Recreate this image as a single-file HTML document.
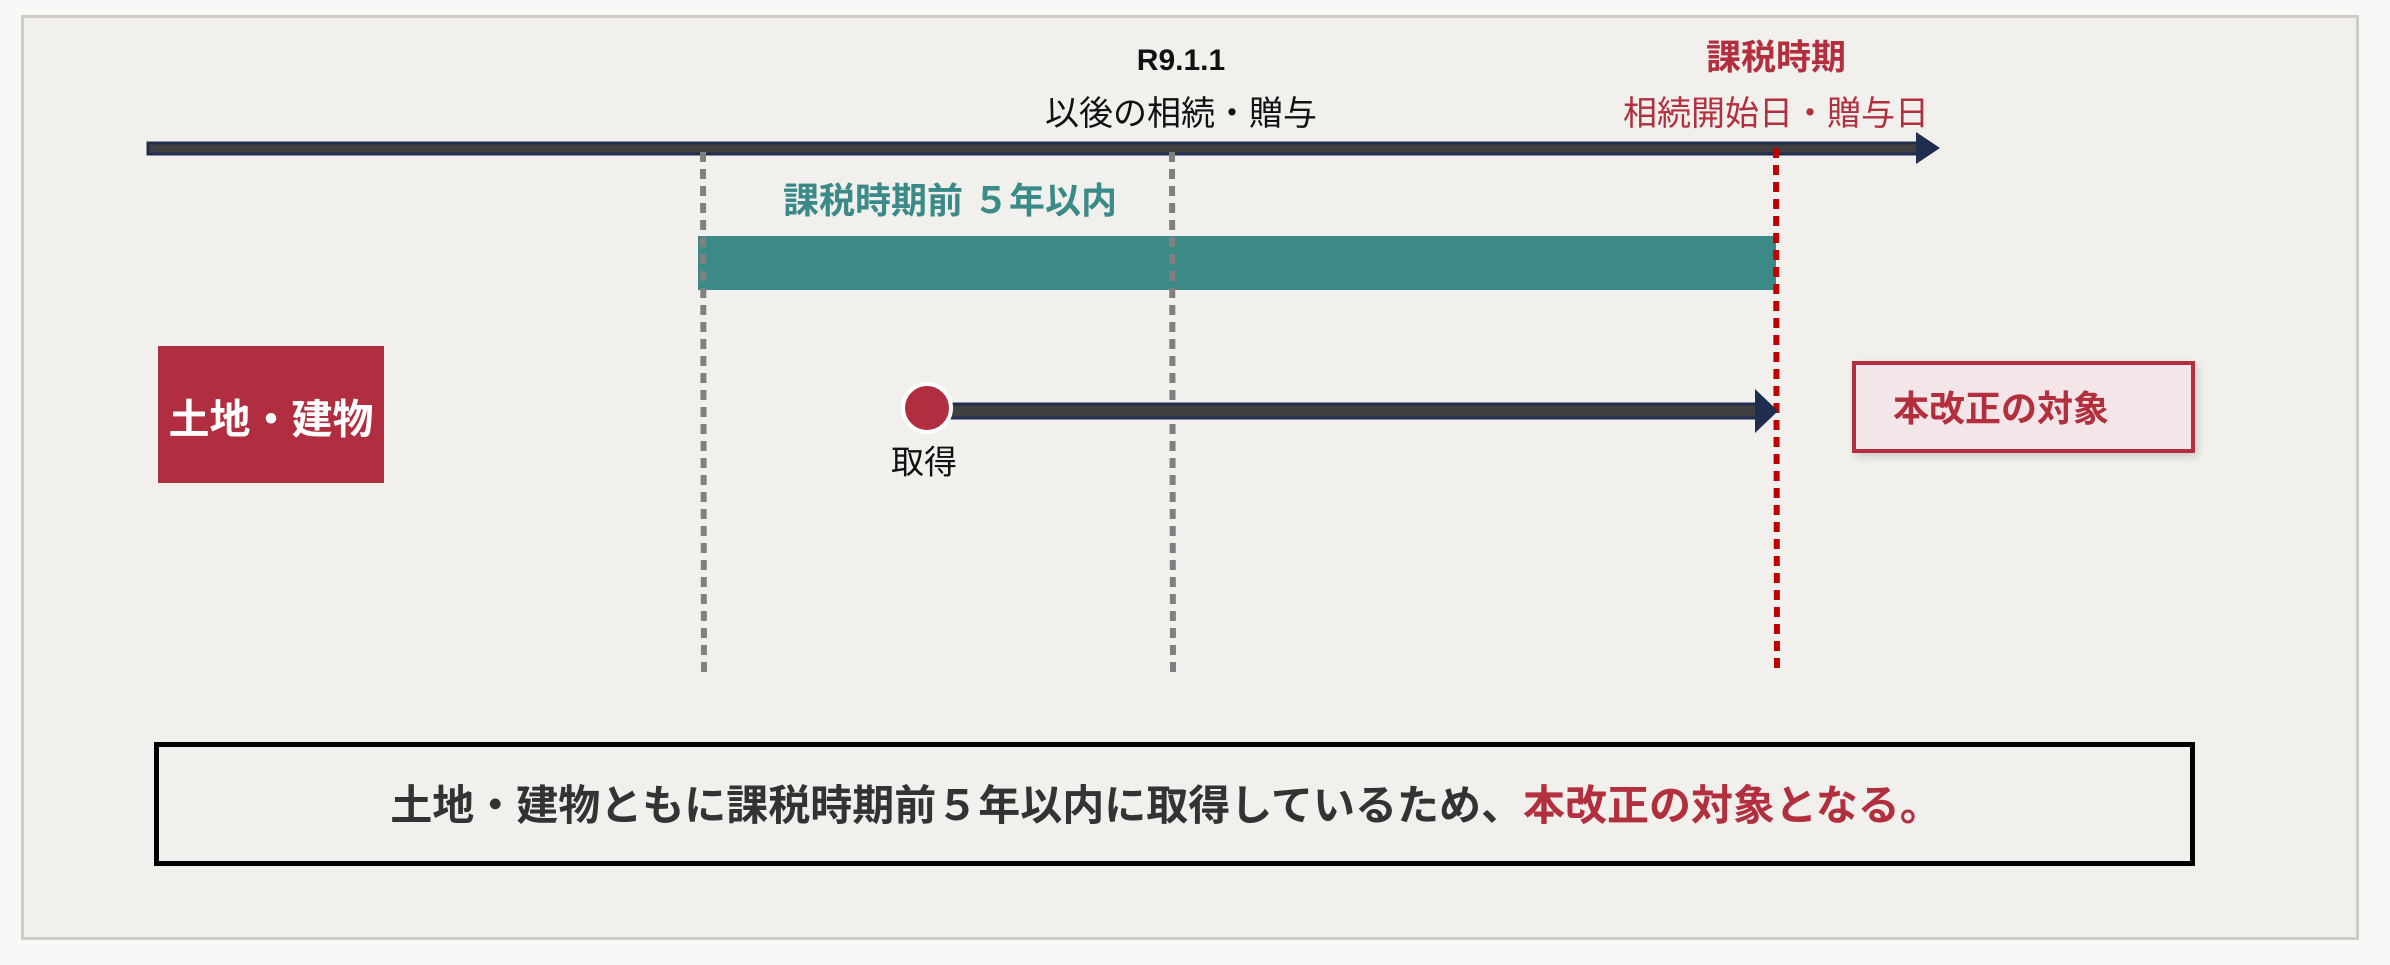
<!DOCTYPE html>
<html><head><meta charset="utf-8"><style>
html,body{margin:0;padding:0}
body{width:2390px;height:965px;background:#f8f8f6;position:relative;overflow:hidden;font-family:"Liberation Sans","Noto Sans CJK JP",sans-serif}
.a{position:absolute}
.t{position:absolute;white-space:nowrap;transform:translate(-50%,-50%);line-height:1}
</style></head><body>
<div class="a" style="left:21px;top:15px;width:2332px;height:919px;border:3px solid #d0ccc4;background:#f1f0ed"></div>

<div class="t" style="left:1181px;top:61px;font-size:30px;font-weight:bold;color:#111">R9.1.1</div>
<div class="t" style="left:1181px;top:114px;font-size:34px;color:#111">以後の相続・贈与</div>
<div class="t" style="left:1776px;top:58px;font-size:35px;font-weight:bold;color:#b22f3e">課税時期</div>
<div class="t" style="left:1776px;top:114px;font-size:34px;color:#b22f3e">相続開始日・贈与日</div>
<div class="t" style="left:950px;top:201px;font-size:36px;font-weight:bold;color:#3a8a87">課税時期前 ５年以内</div>

<div class="a" style="left:698px;top:236px;width:1078px;height:54px;background:#3b8a88"></div>

<svg class="a" style="left:0;top:0" width="2390" height="965">
  <rect x="148" y="143" width="1772" height="11" fill="#404040" stroke="#1f2d4e" stroke-width="3"/>
  <polygon points="1916,132 1940,148 1916,164" fill="#1f2d4e"/>
  <line x1="703" y1="152" x2="704" y2="675" stroke="#808080" stroke-width="6" stroke-dasharray="10,7"/>
  <line x1="1172" y1="152" x2="1173" y2="672" stroke="#808080" stroke-width="6" stroke-dasharray="10,7"/>
  <line x1="1776" y1="148" x2="1777" y2="668" stroke="#c00000" stroke-width="6" stroke-dasharray="10,7"/>
  <rect x="945" y="404" width="812" height="14" fill="#404040" stroke="#1f2d4e" stroke-width="3"/>
  <polygon points="1755,389 1778,411 1755,433" fill="#1f2d4e"/>
  <circle cx="927" cy="408" r="24" fill="#b02e3f" stroke="#fff" stroke-width="4"/>
</svg>

<div class="a" style="left:158px;top:346px;width:226px;height:137px;background:#b02e3f"></div>
<div class="t" style="left:271px;top:420px;font-size:41px;font-weight:bold;color:#fff">土地・建物</div>
<div class="t" style="left:924px;top:462px;font-size:33px;color:#111">取得</div>

<div class="a" style="left:1852px;top:361px;width:335px;height:84px;border:4px solid #b22f3e;background:#f4e6e8;box-shadow:3px 4px 8px rgba(0,0,0,0.15)"></div>
<div class="a" style="left:1893px;top:391px;font-size:36px;font-weight:bold;color:#b22f3e;white-space:nowrap;line-height:1">本改正の対象</div>

<div class="a" style="left:154px;top:742px;width:2031px;height:114px;border:5px solid #000;background:#f1f0ed"></div>
<div class="t" style="left:1166px;top:806px;font-size:42px;font-weight:bold;color:#333">土地・建物ともに課税時期前５年以内に取得しているため、<span style="color:#b22f3e">本改正の対象となる。</span></div>
</body></html>
